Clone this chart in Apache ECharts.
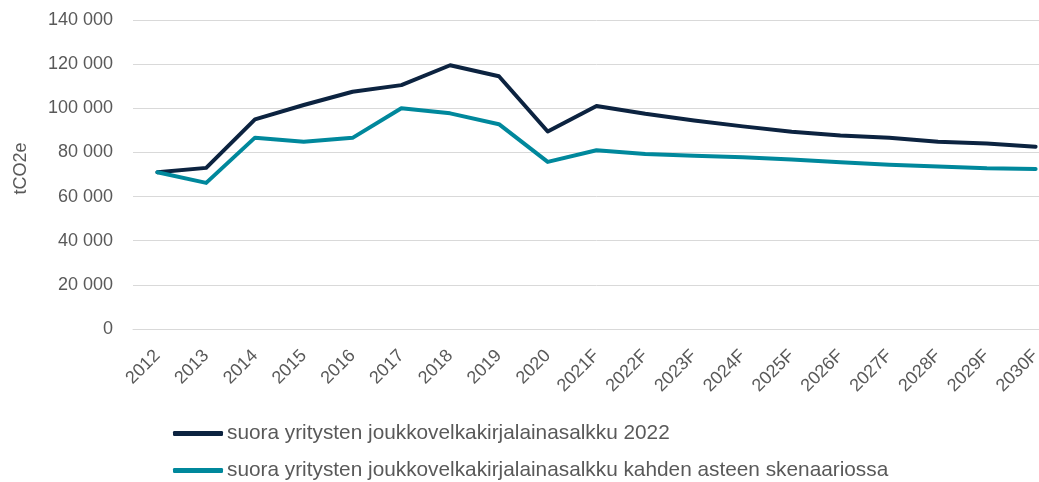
<!DOCTYPE html>
<html>
<head>
<meta charset="utf-8">
<script src="https://cdn.jsdelivr.net/npm/echarts@6/dist/echarts.min.js"></script>
<style>
  html, body { margin: 0; padding: 0; background: #fff; overflow: hidden; }
  /* plot area runs past the right edge of the window, like the cropped original */
  #chart { width: 1060px; height: 482px; }
</style>
</head>
<body>
<div id="chart"></div>
<script>
const years = ["2012", "2013", "2014", "2015", "2016", "2017", "2018", "2019", "2020",
    "2021F", "2022F", "2023F", "2024F", "2025F", "2026F", "2027F", "2028F", "2029F", "2030F"];
const portfolio2022 = [71000, 73000, 95000, 101500, 107500, 110500, 119500, 114500, 89500,
    101000, 97500, 94500, 91800, 89400, 87700, 86600, 84800, 84000, 82600];
const twoDegree = [71000, 66200, 86700, 84800, 86600, 100000, 97700, 92800, 75700,
    81000, 79300, 78500, 77800, 76800, 75500, 74400, 73600, 72800, 72500];
const seriesNames = ["suora yritysten joukkovelkakirjalainasalkku 2022",
    "suora yritysten joukkovelkakirjalainasalkku kahden asteen skenaariossa"];
const colors = ["#0c2340", "#00889c"]; // dark navy, teal

const font = "Liberation Sans, Arial, sans-serif";
const textColor = "#595959";

const chart = echarts.init(document.getElementById("chart"));

chart.setOption({
    animation: false,
    grid: { left: 133, right: 0, top: 20, bottom: 153 },
    legend: {
        orient: "vertical",
        left: 168,
        top: 418,
        height: 80,
        itemWidth: 50,
        itemHeight: 5,
        itemGap: 16,
        icon: "roundRect",
        data: seriesNames,
        textStyle: { fontFamily: font, fontSize: 20.8, color: textColor, padding: [0, 0, 0, -1] }
    },
    xAxis: {
        type: "category",
        data: years,
        boundaryGap: true,
        axisLine: { lineStyle: { color: "#d9d9d9", width: 1 } },
        axisTick: { show: false },
        axisLabel: { rotate: 45, interval: 0, margin: 24, fontFamily: font, fontSize: 18, color: textColor }
    },
    yAxis: {
        type: "value",
        min: 0,
        max: 140000,
        interval: 20000,
        name: "tCO2e",
        nameLocation: "middle",
        nameGap: 103,
        nameTextStyle: { fontFamily: font, fontSize: 18, color: textColor, padding: [0, 0, 0, 12] },
        axisLine: { show: false },
        axisTick: { show: false },
        splitLine: { lineStyle: { color: "#d9d9d9", width: 1 } },
        axisLabel: {
            margin: 20,
            fontFamily: font,
            fontSize: 18,
            color: textColor,
            formatter: (v) => String(v).replace(/\B(?=(\d{3})+(?!\d))/g, " ")
        }
    },
    series: [
        {
            name: seriesNames[0],
            type: "line",
            data: portfolio2022,
            showSymbol: false,
            itemStyle: { color: colors[0] },
            lineStyle: { color: colors[0], width: 4, cap: "round", join: "round" }
        },
        {
            name: seriesNames[1],
            type: "line",
            data: twoDegree,
            showSymbol: false,
            itemStyle: { color: colors[1] },
            lineStyle: { color: colors[1], width: 4, cap: "round", join: "round" }
        }
    ]
});
</script>
</body>
</html>
